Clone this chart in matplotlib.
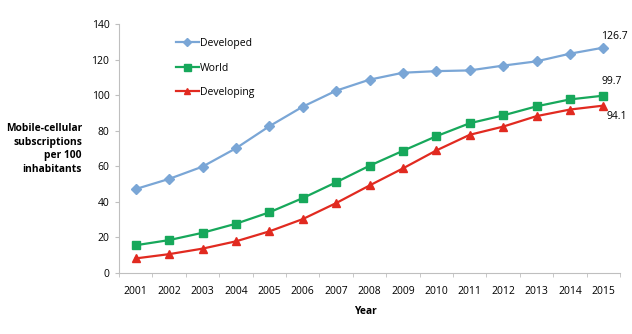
import matplotlib
matplotlib.use("Agg")
import matplotlib.pyplot as plt

years = [str(y) for y in range(2001, 2016)]
developed = [47.2, 52.9, 59.8, 70.1, 82.5, 93.5, 102.5, 108.7, 112.6, 113.5, 113.9, 116.6, 119.0, 123.3, 126.7]
world = [15.6, 18.5, 22.6, 27.7, 34.1, 42.1, 51.0, 60.3, 68.7, 76.9, 84.2, 88.6, 93.7, 97.6, 99.7]
developing = [8.2, 10.6, 13.7, 17.8, 23.4, 30.3, 39.3, 49.2, 58.8, 68.9, 77.7, 82.3, 88.2, 91.9, 94.1]

plt.rcParams["font.family"] = ["Open Sans", "DejaVu Sans"]

W, H = 632, 334
fig = plt.figure(figsize=(W / 100, H / 100), dpi=100)
ax = fig.add_axes([119 / W, 61 / H, 501 / W, 249 / H])

x = list(range(len(years)))
ax.plot(x, developed, color="#7AA6D6", lw=1.6, marker="D", ms=4.8, label="Developed")
ax.plot(x, world, color="#17A85B", lw=1.6, marker="s", ms=6.3, label="World")
ax.plot(x, developing, color="#E12A20", lw=1.6, marker="^", ms=6, label="Developing")

# end-of-series labels
ax.annotate(f"{developed[-1]:.1f}", (x[-1], developed[-1]), xytext=(8, 8),
            textcoords="offset points", ha="center", va="center", fontsize=7.5)
ax.annotate(f"{world[-1]:.1f}", (x[-1], world[-1]), xytext=(6, 10),
            textcoords="offset points", ha="center", va="center", fontsize=7.5)
ax.annotate(f"{developing[-1]:.1f}", (x[-1], developing[-1]), xytext=(10, -8),
            textcoords="offset points", ha="center", va="center", fontsize=7.5)

ax.set_xlim(-0.5, len(years) - 0.5)
ax.set_ylim(0, 140)
ax.set_yticks(range(0, 141, 20))
ax.set_xticks(x)
ax.set_xticklabels(years)
ax.set_xticks([i - 0.5 for i in range(len(years) + 1)], minor=True)
ax.tick_params(axis="x", which="major", length=0, pad=9, labelsize=7.5)
ax.tick_params(axis="x", which="minor", length=3, color="#BFBFBF")
ax.tick_params(axis="y", length=3, pad=4, color="#BFBFBF", labelsize=7.5)

for s in ["top", "right"]:
    ax.spines[s].set_visible(False)
for s in ["left", "bottom"]:
    ax.spines[s].set_color("#BFBFBF")

fig.text(82 / W, 1 - 149 / H, "Mobile-cellular\nsubscriptions\nper 100\ninhabitants",
         ha="right", va="center", multialignment="right", fontsize=7.4,
         fontweight="bold", linespacing=1.35)
fig.text(365 / W, 1 - 311 / H, "Year", ha="center", va="center",
         fontsize=7.4, fontweight="bold")

ax.legend(loc="upper left", bbox_to_anchor=(176 / W, 1 - 38 / H),
          bbox_transform=fig.transFigure, frameon=False, fontsize=7.5,
          handlelength=2.2, handletextpad=0.1, labelspacing=1.3,
          borderpad=0, borderaxespad=0, markerscale=0.8)

fig.savefig("out.png", dpi=100)
